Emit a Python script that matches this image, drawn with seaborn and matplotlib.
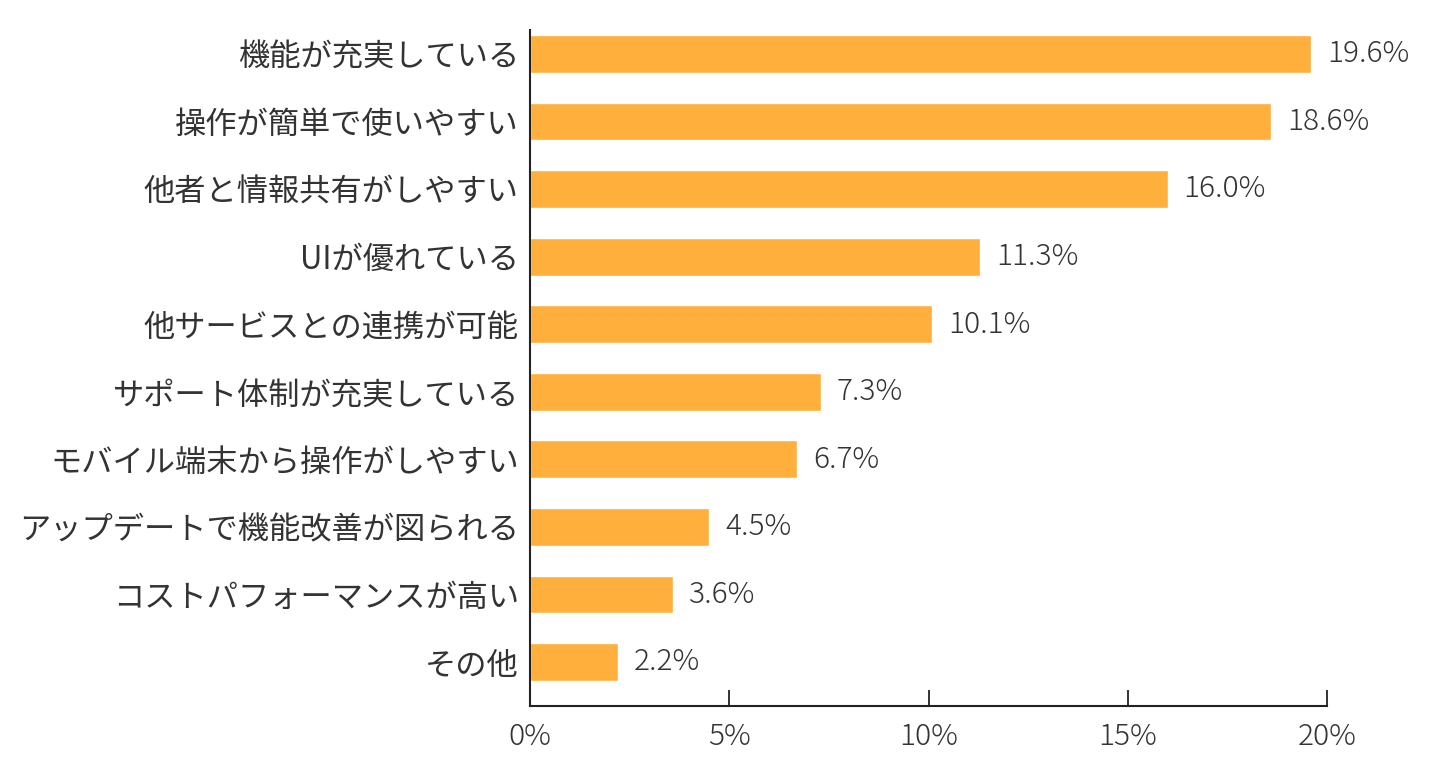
import matplotlib
matplotlib.use('Agg')
import matplotlib.pyplot as plt
import seaborn as sns
import pandas as pd

# Data
categories = ['機能が充実している', '操作が簡単で使いやすい', '他者と情報共有がしやすい',
              'UIが優れている', '他サービスとの連携が可能', 'サポート体制が充実している',
              'モバイル端末から操作がしやすい', 'アップデートで機能改善が図られる',
              'コストパフォーマンスが高い', 'その他']
values = [19.6, 18.6, 16.0, 11.3, 10.1, 7.3, 6.7, 4.5, 3.6, 2.2]
xticks = [0, 5, 10, 15, 20]

df = pd.DataFrame({'category': categories, 'value': values})

sns.set_theme(style='white')
plt.rcParams['font.family'] = ['Noto Sans CJK JP', 'DejaVu Sans']
text_color = '#333333'

fig = plt.figure(figsize=(14.32, 7.68), dpi=100)
ax = fig.add_axes([530 / 1432, 1 - 706 / 768, (1327 - 530) / 1432, (706 - 30) / 768])

sns.barplot(data=df, x='value', y='category', color='#FFAF3B', saturation=1,
            width=0.56, ax=ax, orient='h')

# Value labels
for i, v in enumerate(values):
    ax.text(v + 0.4, i, f'{v:.1f}%', va='center', ha='left',
            fontsize=21.5, color=text_color, fontweight='light')

ax.set_xlim(0, 20)
ax.set_ylim(9.65, -0.355)
ax.set_xticks(xticks)
ax.set_xticklabels([f'{t}%' for t in xticks], fontweight='light')
ax.set_xlabel('')
ax.set_ylabel('')

for side in ['top', 'right']:
    ax.spines[side].set_visible(False)
for side in ['left', 'bottom']:
    ax.spines[side].set_color('#222222')
    ax.spines[side].set_linewidth(1.5)

ax.tick_params(axis='x', bottom=True, direction='in', length=11.5, width=1.3,
               color='#222222', pad=11, labelsize=21.5, labelcolor=text_color)
ax.tick_params(axis='y', left=False, length=0, pad=8, labelsize=22.5,
               labelcolor=text_color)

fig.savefig('out.png', dpi=100)
